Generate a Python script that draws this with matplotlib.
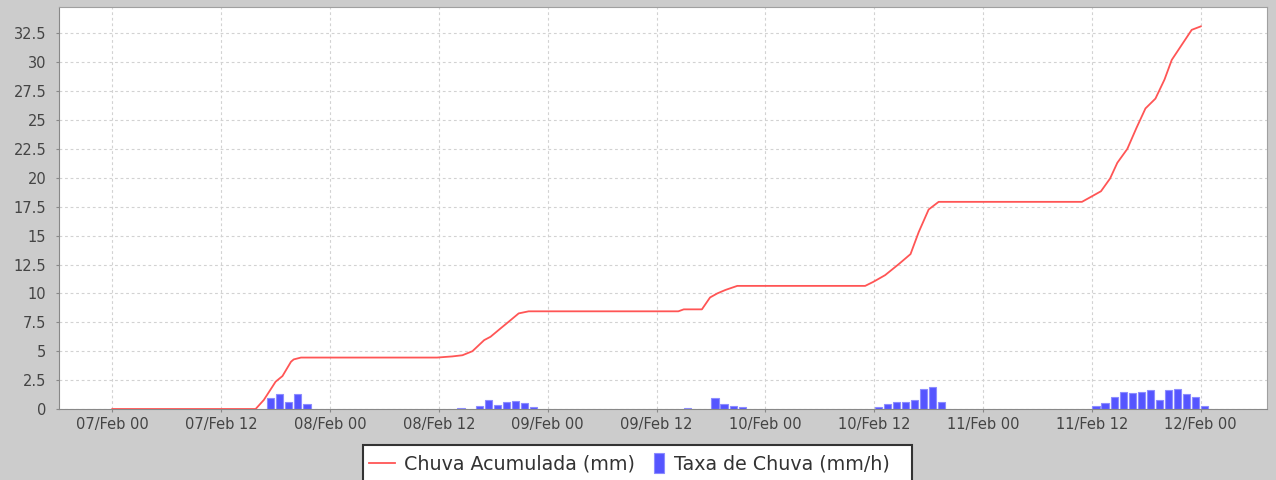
import datetime as dt
import matplotlib
matplotlib.use('Agg')
import matplotlib.pyplot as plt
import matplotlib.dates as mdates
import matplotlib.patches as mpatches
from matplotlib.lines import Line2D
from matplotlib.legend_handler import HandlerPatch

# hours counted from 07/Feb 00:00
start = dt.datetime(2011, 2, 7)

line_hours = [0, 15.8, 16.7, 17.65, 18.0, 18.76, 19.7, 20.0, 20.8,
              35.8, 37.5, 38.6, 39.7, 41.0, 41.7, 42.8, 43.7, 44.8, 45.9,
              62.4, 63.0, 65.0, 65.9, 66.7, 67.6, 68.9,
              83.0, 83.9, 85.2, 86.7, 88.0, 88.9, 90.0, 91.1,
              106.9, 108.0, 109.0, 110.0, 110.8, 111.9, 112.9, 113.9, 115.0,
              116.0, 116.8, 117.9, 119.0, 120.0]
chuva_acumulada = [0, 0, 0.78, 1.93, 2.36, 2.85, 4.09, 4.29, 4.45,
                   4.45, 4.55, 4.65, 5.0, 5.96, 6.25, 6.97, 7.55, 8.27, 8.45,
                   8.45, 8.62, 8.62, 9.65, 10.0, 10.3, 10.65,
                   10.65, 11.0, 11.58, 12.53, 13.4, 15.3, 17.26, 17.92,
                   17.92, 18.4, 18.84, 19.94, 21.3, 22.5, 24.3, 26.0, 26.85,
                   28.5, 30.2, 31.5, 32.8, 33.1]

bar_hours = [17, 18, 19, 20, 21,
             38, 40, 41, 42, 43, 44, 45, 46,
             63, 66, 67, 68, 69,
             84, 85, 86, 87, 88, 89, 90, 91,
             108, 109, 110, 111, 112, 113, 114, 115, 116, 117, 118, 119, 120]
taxa_chuva = [0.92, 1.27, 0.6, 1.27, 0.46,
              0.1, 0.29, 0.78, 0.35, 0.63, 0.69, 0.55, 0.14,
              0.05, 0.95, 0.4, 0.25, 0.15,
              0.14, 0.4, 0.6, 0.6, 0.75, 1.73, 1.9, 0.6,
              0.29, 0.49, 1.0, 1.44, 1.35, 1.44, 1.64, 0.81, 1.64, 1.73, 1.3, 1.0, 0.29]

y_ticks = [0, 2.5, 5, 7.5, 10, 12.5, 15, 17.5, 20, 22.5, 25, 27.5, 30, 32.5]


def to_time(h):
    return start + dt.timedelta(hours=h)


W, H = 1276, 480
fig = plt.figure(figsize=(W / 100, H / 100), dpi=100)
fig.patch.set_facecolor('#cccccc')
ax = fig.add_axes([58.7 / W, 71 / H, (1267 - 58.7) / W, 401.7 / H])
ax.set_facecolor('white')

bar_x = [to_time(h + 0.45) for h in bar_hours]
ax.bar(bar_x, taxa_chuva, width=0.8 / 24, color='#5555ff',
       edgecolor='#8c8cff', linewidth=0.8, zorder=2)
ax.plot([to_time(h) for h in line_hours], chuva_acumulada,
        color='#ff5555', linewidth=1.3, zorder=3)

ax.set_xlim(to_time(-5.91), to_time(127.3))
ax.set_ylim(0, 34.75)
ax.set_yticks(y_ticks)
ax.set_yticklabels(['%g' % v for v in y_ticks])
ax.xaxis.set_major_locator(mdates.HourLocator(byhour=[0, 12]))
ax.xaxis.set_major_formatter(mdates.DateFormatter('%d/%b %H'))

ax.grid(True, color='#d2d2d2', linestyle=(0, (2.5, 2.5)), linewidth=0.8, zorder=0)
ax.set_axisbelow(True)
for side in ['left', 'bottom']:
    ax.spines[side].set_color('#888888')
for side in ['top', 'right']:
    ax.spines[side].set_color('#a0a0a0')
ax.tick_params(axis='both', length=2, color='#888888', labelcolor='#444444',
               labelsize=10.5)
ax.tick_params(axis='y', pad=7)
ax.tick_params(axis='x', pad=4)

# legend box runs off the bottom of the image, as in the original
box = mpatches.Rectangle((363 / W, -20 / H), (912 - 363) / W, (35 + 20) / H,
                         transform=fig.transFigure, facecolor='white',
                         edgecolor='#333333', linewidth=1.5, zorder=1)
fig.patches.append(box)


def narrow_bar(legend, orig_handle, xdescent, ydescent, width, height, fontsize):
    return mpatches.Rectangle((width - 7.2, -ydescent - 2.5), 7.2, height + 5)


handles = [Line2D([], [], color='#ff5555', linewidth=1.3),
           mpatches.Patch(facecolor='#5555ff', edgecolor='#8c8cff', linewidth=0.8)]
leg = fig.legend(handles, ['Chuva Acumulada (mm)', 'Taxa de Chuva (mm/h)'],
                 loc='upper left', bbox_to_anchor=(363 / W, 1 - 449 / H),
                 bbox_transform=fig.transFigure, ncol=2, fontsize=13.7,
                 frameon=False, borderpad=0.3, borderaxespad=0,
                 handlelength=1.39, handletextpad=0.48, columnspacing=0.15,
                 handler_map={mpatches.Patch: HandlerPatch(patch_func=narrow_bar)})
for t in leg.get_texts():
    t.set_color('#333333')

fig.savefig('out.png', dpi=100, facecolor=fig.get_facecolor())
